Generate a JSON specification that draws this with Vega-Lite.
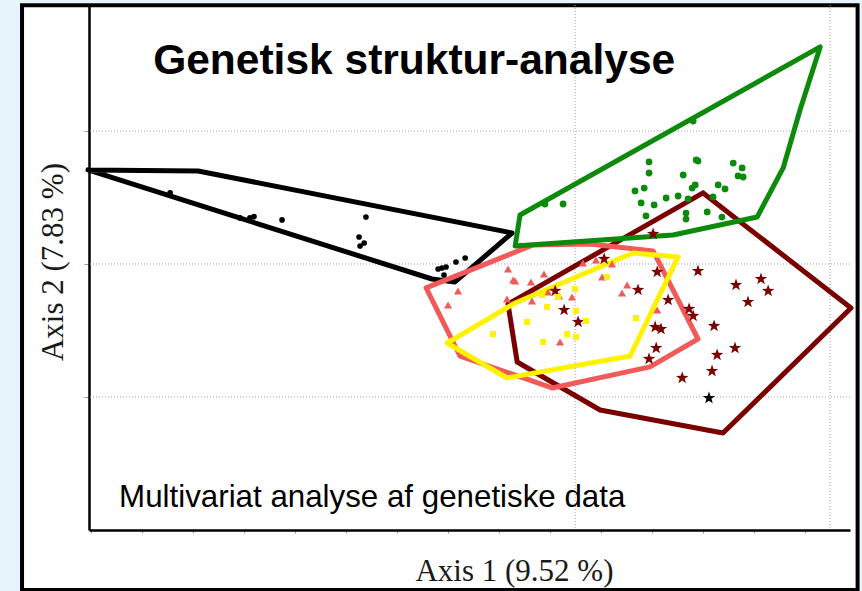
{
  "$schema": "https://vega.github.io/schema/vega-lite/v6.json",
  "width": 761,
  "height": 525,
  "autosize": {"type": "none"},
  "padding": {"left": 89, "top": 5, "right": 12, "bottom": 61},
  "background": "#ffffff",
  "config": {
    "view": {"stroke": null},
    "axisX": {
      "titleFont": "Liberation Serif", "titleFontSize": 31, "titleFontWeight": "normal",
      "titleColor": "#1a1a1a", "titleX": 425, "titleY": 50,
      "titleAlign": "center", "titleBaseline": "alphabetic",
      "labels": false, "grid": false,
      "domainColor": "#000000", "domainWidth": 2.5,
      "tickColor": "#9a9a9a", "tickSize": 3, "tickWidth": 1,
      "zindex": 1
    },
    "axisY": {
      "titleFont": "Liberation Serif", "titleFontSize": 31, "titleFontWeight": "normal",
      "titleColor": "#1a1a1a", "titleAngle": -90, "titleX": -27, "titleY": 256.5,
      "titleAlign": "center", "titleBaseline": "alphabetic",
      "labels": false, "grid": false,
      "domainColor": "#000000", "domainWidth": 2.5,
      "tickColor": "#9a9a9a", "tickSize": 5, "tickWidth": 1,
      "zindex": 1
    }
  },
  "datasets": {
    "poly": [
      {"pop": "A", "i": 0, "x": -1.910, "y": 0.707},
      {"pop": "A", "i": 1, "x": -1.478, "y": 0.699},
      {"pop": "A", "i": 2, "x": -0.247, "y": 0.233},
      {"pop": "A", "i": 3, "x": -0.471, "y": -0.135},
      {"pop": "A", "i": 4, "x": -0.561, "y": -0.113},
      {"pop": "A", "i": 5, "x": -1.910, "y": 0.707},
      {"pop": "B", "i": 0, "x": 0.502, "y": 0.534},
      {"pop": "B", "i": 1, "x": -0.263, "y": -0.301},
      {"pop": "B", "i": 2, "x": -0.227, "y": -0.737},
      {"pop": "B", "i": 3, "x": 0.098, "y": -1.098},
      {"pop": "B", "i": 4, "x": 0.580, "y": -1.271},
      {"pop": "B", "i": 5, "x": 1.082, "y": -0.331},
      {"pop": "B", "i": 6, "x": 0.502, "y": 0.534},
      {"pop": "C", "i": 0, "x": -0.584, "y": -0.180},
      {"pop": "C", "i": 1, "x": -0.165, "y": 0.143},
      {"pop": "C", "i": 2, "x": 0.059, "y": 0.150},
      {"pop": "C", "i": 3, "x": 0.306, "y": 0.098},
      {"pop": "C", "i": 4, "x": 0.482, "y": -0.564},
      {"pop": "C", "i": 5, "x": 0.294, "y": -0.774},
      {"pop": "C", "i": 6, "x": -0.090, "y": -0.932},
      {"pop": "C", "i": 7, "x": -0.451, "y": -0.692},
      {"pop": "C", "i": 8, "x": -0.584, "y": -0.180},
      {"pop": "D", "i": 0, "x": -0.216, "y": 0.368},
      {"pop": "D", "i": 1, "x": 0.961, "y": 1.632},
      {"pop": "D", "i": 2, "x": 0.882, "y": 1.158},
      {"pop": "D", "i": 3, "x": 0.816, "y": 0.722},
      {"pop": "D", "i": 4, "x": 0.714, "y": 0.353},
      {"pop": "D", "i": 5, "x": 0.384, "y": 0.218},
      {"pop": "D", "i": 6, "x": -0.235, "y": 0.135},
      {"pop": "D", "i": 7, "x": -0.216, "y": 0.368},
      {"pop": "E", "i": 0, "x": -0.502, "y": -0.594},
      {"pop": "E", "i": 1, "x": -0.235, "y": -0.293},
      {"pop": "E", "i": 2, "x": 0.227, "y": 0.083},
      {"pop": "E", "i": 3, "x": 0.404, "y": 0.053},
      {"pop": "E", "i": 4, "x": 0.216, "y": -0.692},
      {"pop": "E", "i": 5, "x": -0.267, "y": -0.857},
      {"pop": "E", "i": 6, "x": -0.502, "y": -0.594}
    ],
    "pts": [
      {"pop": "A", "x": -1.588, "y": 0.534},
      {"pop": "A", "x": -1.314, "y": 0.346},
      {"pop": "A", "x": -1.275, "y": 0.346},
      {"pop": "A", "x": -1.259, "y": 0.356},
      {"pop": "A", "x": -1.149, "y": 0.331},
      {"pop": "A", "x": -0.820, "y": 0.353},
      {"pop": "A", "x": -0.847, "y": 0.203},
      {"pop": "A", "x": -0.827, "y": 0.158},
      {"pop": "A", "x": -0.843, "y": 0.135},
      {"pop": "A", "x": -0.537, "y": -0.038},
      {"pop": "A", "x": -0.522, "y": -0.030},
      {"pop": "A", "x": -0.506, "y": -0.023},
      {"pop": "A", "x": -0.467, "y": 0.015},
      {"pop": "A", "x": -0.431, "y": 0.045},
      {"pop": "A", "x": -0.514, "y": -0.083},
      {"pop": "D", "x": 0.463, "y": 1.075},
      {"pop": "D", "x": 0.290, "y": 0.767},
      {"pop": "D", "x": 0.475, "y": 0.782},
      {"pop": "D", "x": 0.482, "y": 0.774},
      {"pop": "D", "x": 0.620, "y": 0.759},
      {"pop": "D", "x": 0.655, "y": 0.722},
      {"pop": "D", "x": 0.290, "y": 0.684},
      {"pop": "D", "x": 0.424, "y": 0.669},
      {"pop": "D", "x": 0.639, "y": 0.662},
      {"pop": "D", "x": 0.659, "y": 0.654},
      {"pop": "D", "x": 0.235, "y": 0.549},
      {"pop": "D", "x": 0.271, "y": 0.571},
      {"pop": "D", "x": 0.471, "y": 0.594},
      {"pop": "D", "x": 0.459, "y": 0.571},
      {"pop": "D", "x": 0.561, "y": 0.594},
      {"pop": "D", "x": 0.588, "y": 0.564},
      {"pop": "D", "x": 0.357, "y": 0.496},
      {"pop": "D", "x": 0.404, "y": 0.511},
      {"pop": "D", "x": 0.443, "y": 0.489},
      {"pop": "D", "x": 0.541, "y": 0.504},
      {"pop": "D", "x": 0.259, "y": 0.459},
      {"pop": "D", "x": 0.310, "y": 0.444},
      {"pop": "D", "x": 0.435, "y": 0.383},
      {"pop": "D", "x": 0.435, "y": 0.338},
      {"pop": "D", "x": 0.518, "y": 0.391},
      {"pop": "D", "x": 0.576, "y": 0.353},
      {"pop": "D", "x": 0.278, "y": 0.361},
      {"pop": "D", "x": -0.118, "y": 0.451},
      {"pop": "D", "x": -0.047, "y": 0.451},
      {"pop": "B", "x": 0.306, "y": 0.226},
      {"pop": "B", "x": 0.114, "y": 0.038},
      {"pop": "B", "x": 0.322, "y": -0.060},
      {"pop": "B", "x": 0.482, "y": -0.053},
      {"pop": "B", "x": 0.247, "y": -0.195},
      {"pop": "B", "x": 0.631, "y": -0.158},
      {"pop": "B", "x": 0.729, "y": -0.113},
      {"pop": "B", "x": 0.757, "y": -0.203},
      {"pop": "B", "x": 0.678, "y": -0.286},
      {"pop": "B", "x": 0.365, "y": -0.271},
      {"pop": "B", "x": 0.447, "y": -0.338},
      {"pop": "B", "x": 0.463, "y": -0.391},
      {"pop": "B", "x": 0.314, "y": -0.474},
      {"pop": "B", "x": 0.337, "y": -0.489},
      {"pop": "B", "x": 0.545, "y": -0.466},
      {"pop": "B", "x": 0.318, "y": -0.632},
      {"pop": "B", "x": 0.627, "y": -0.632},
      {"pop": "B", "x": 0.557, "y": -0.684},
      {"pop": "B", "x": 0.290, "y": -0.714},
      {"pop": "B", "x": 0.537, "y": -0.805},
      {"pop": "B", "x": 0.420, "y": -0.857},
      {"pop": "B", "x": -0.078, "y": -0.203},
      {"pop": "B", "x": -0.043, "y": -0.346},
      {"pop": "B", "x": 0.012, "y": -0.436},
      {"pop": "F", "x": 0.525, "y": -1.008},
      {"pop": "C", "x": -0.263, "y": -0.038},
      {"pop": "C", "x": -0.243, "y": -0.120},
      {"pop": "C", "x": -0.235, "y": -0.128},
      {"pop": "C", "x": -0.173, "y": -0.135},
      {"pop": "C", "x": -0.122, "y": -0.075},
      {"pop": "C", "x": -0.459, "y": -0.203},
      {"pop": "C", "x": -0.498, "y": -0.308},
      {"pop": "C", "x": -0.267, "y": -0.263},
      {"pop": "C", "x": -0.169, "y": -0.278},
      {"pop": "C", "x": -0.106, "y": -0.211},
      {"pop": "C", "x": -0.063, "y": -0.241},
      {"pop": "C", "x": -0.012, "y": -0.248},
      {"pop": "C", "x": 0.031, "y": 0.008},
      {"pop": "C", "x": 0.082, "y": 0.030},
      {"pop": "C", "x": 0.145, "y": 0.000},
      {"pop": "C", "x": 0.106, "y": -0.098},
      {"pop": "C", "x": 0.184, "y": -0.218},
      {"pop": "C", "x": 0.204, "y": -0.158},
      {"pop": "C", "x": -0.059, "y": -0.586},
      {"pop": "C", "x": 0.322, "y": -0.346},
      {"pop": "E", "x": 0.000, "y": -0.188},
      {"pop": "E", "x": -0.129, "y": -0.233},
      {"pop": "E", "x": -0.067, "y": -0.248},
      {"pop": "E", "x": 0.125, "y": -0.098},
      {"pop": "E", "x": -0.110, "y": -0.323},
      {"pop": "E", "x": 0.004, "y": -0.353},
      {"pop": "E", "x": 0.043, "y": -0.429},
      {"pop": "E", "x": -0.188, "y": -0.436},
      {"pop": "E", "x": 0.239, "y": -0.406},
      {"pop": "E", "x": -0.322, "y": -0.526},
      {"pop": "E", "x": -0.031, "y": -0.526},
      {"pop": "E", "x": 0.004, "y": -0.549},
      {"pop": "E", "x": -0.125, "y": -0.586}
    ]
  },
  "layer": [
    {
      "data": {"values": [{}]},
      "mark": {"type": "rect", "fill": null, "stroke": "#E8F4FC", "strokeWidth": 40},
      "encoding": {
        "x": {"datum": -2.2549, "type": "quantitative", "title": "Axis 1 (9.52 %)"},
        "x2": {"datum": 1.1961},
        "y": {"datum": 2.1128, "type": "quantitative", "title": "Axis 2 (7.83 %)"},
        "y2": {"datum": -2.609}
      }
    },
    {
      "data": {"values": [{}]},
      "mark": {"type": "rect", "fill": null, "stroke": "#000000", "strokeWidth": 4},
      "encoding": {
        "x": {"datum": -2.1686, "type": "quantitative", "title": "Axis 1 (9.52 %)"},
        "x2": {"datum": 1.1078},
        "y": {"datum": 1.945, "type": "quantitative", "title": "Axis 2 (7.83 %)"},
        "y2": {"datum": -2.451}
      }
    },
    {
      "data": {"values": [{}]},
      "mark": {"type": "rule", "color": "#a0a0a0", "strokeDash": [1, 2], "strokeWidth": 1},
      "encoding": {"x": {"datum": 0, "type": "quantitative", "title": "Axis 1 (9.52 %)"}}
    },
    {
      "data": {"values": [{}]},
      "mark": {"type": "rule", "color": "#a0a0a0", "strokeDash": [1, 2], "strokeWidth": 1},
      "encoding": {"x": {"datum": 1, "type": "quantitative", "title": "Axis 1 (9.52 %)"}}
    },
    {
      "data": {"values": [{}]},
      "mark": {"type": "rule", "color": "#a0a0a0", "strokeDash": [1, 2], "strokeWidth": 1},
      "encoding": {"y": {"datum": 1, "type": "quantitative", "title": "Axis 2 (7.83 %)"}}
    },
    {
      "data": {"values": [{}]},
      "mark": {"type": "rule", "color": "#a0a0a0", "strokeDash": [1, 2], "strokeWidth": 1},
      "encoding": {"y": {"datum": 0, "type": "quantitative", "title": "Axis 2 (7.83 %)"}}
    },
    {
      "data": {"values": [{}]},
      "mark": {"type": "rule", "color": "#a0a0a0", "strokeDash": [1, 2], "strokeWidth": 1},
      "encoding": {"y": {"datum": -1, "type": "quantitative", "title": "Axis 2 (7.83 %)"}}
    },
    {
      "data": {"name": "poly"},
      "mark": {"type": "line", "strokeWidth": 5, "strokeJoin": "round", "strokeCap": "round"},
      "encoding": {
        "x": {
          "field": "x", "type": "quantitative", "title": "Axis 1 (9.52 %)",
          "scale": {"domain": [-1.906, 1.078], "nice": false, "zero": false},
          "axis": {
            "values": [-1.9,-1.8,-1.7,-1.6,-1.5,-1.4,-1.3,-1.2,-1.1,-1.0,-0.9,-0.8,-0.7,-0.6,-0.5,-0.4,-0.3,-0.2,-0.1,0,0.1,0.2,0.3,0.4,0.5,0.6,0.7,0.8,0.9,1.0]
          }
        },
        "y": {
          "field": "y", "type": "quantitative", "title": "Axis 2 (7.83 %)",
          "scale": {"domain": [-2.0, 1.947], "nice": false, "zero": false},
          "axis": {"values": [-1, 0, 1]}
        },
        "color": {
          "field": "pop", "type": "nominal", "legend": null,
          "scale": {"domain": ["A", "B", "C", "D", "E", "F"], "range": ["#000000", "#7A0000", "#F25A5A", "#0C8A0C", "#FFF200", "#000000"]}
        },
        "order": {"field": "i", "type": "quantitative"}
      }
    },
    {
      "data": {"name": "pts"},
      "mark": {"type": "point", "filled": true, "opacity": 1, "strokeWidth": 0},
      "encoding": {
        "x": {"field": "x", "type": "quantitative", "title": "Axis 1 (9.52 %)"},
        "y": {"field": "y", "type": "quantitative", "title": "Axis 2 (7.83 %)"},
        "color": {"field": "pop", "type": "nominal", "legend": null},
        "shape": {
          "field": "pop", "type": "nominal", "legend": null,
          "scale": {"domain": ["A", "B", "C", "D", "E", "F"], "range": ["circle", "M0,-1L0.235,-0.324L0.951,-0.309L0.38,0.124L0.588,0.809L0,0.4L-0.588,0.809L-0.38,0.124L-0.951,-0.309L-0.235,-0.324Z", "triangle-up", "circle", "square", "M0,-1L0.235,-0.324L0.951,-0.309L0.38,0.124L0.588,0.809L0,0.4L-0.588,0.809L-0.38,0.124L-0.951,-0.309L-0.235,-0.324Z"]}
        },
        "size": {
          "field": "pop", "type": "nominal", "legend": null,
          "scale": {"type": "ordinal", "domain": ["A", "B", "C", "D", "E", "F"], "range": [32, 170, 65, 46, 36, 170]}
        }
      }
    },
    {
      "data": {"values": [{}]},
      "mark": {"type": "text", "text": "Genetisk struktur-analyse", "font": "Liberation Sans", "fontWeight": "bold", "fontSize": 42.5, "align": "center", "baseline": "alphabetic", "color": "#000000"},
      "encoding": {
        "x": {"datum": -0.631, "type": "quantitative", "title": "Axis 1 (9.52 %)"},
        "y": {"datum": 1.429, "type": "quantitative", "title": "Axis 2 (7.83 %)"}
      }
    },
    {
      "data": {"values": [{}]},
      "mark": {"type": "text", "text": "Multivariat analyse af genetiske data", "font": "Liberation Sans", "fontSize": 31.3, "align": "left", "baseline": "alphabetic", "color": "#000000"},
      "encoding": {
        "x": {"datum": -1.788, "type": "quantitative", "title": "Axis 1 (9.52 %)"},
        "y": {"datum": -1.827, "type": "quantitative", "title": "Axis 2 (7.83 %)"}
      }
    }
  ]
}
